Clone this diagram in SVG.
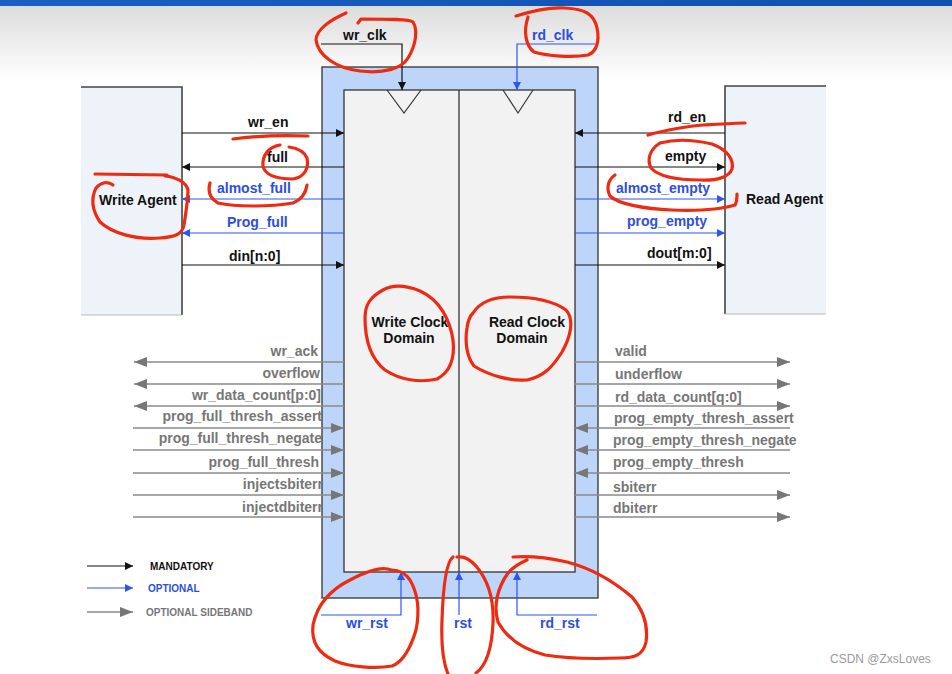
<svg xmlns="http://www.w3.org/2000/svg" width="952" height="674" viewBox="0 0 952 674">
<defs>
<linearGradient id="topbg" x1="0" y1="0" x2="0" y2="1">
<stop offset="0" stop-color="#dcdcdc"/>
<stop offset="1" stop-color="#ffffff"/>
</linearGradient>
<linearGradient id="topbar" x1="0" y1="0" x2="1" y2="0">
<stop offset="0" stop-color="#1b5fc4"/>
<stop offset="1" stop-color="#0f4fae"/>
</linearGradient>
<marker id="ak" markerUnits="userSpaceOnUse" markerWidth="9" markerHeight="9" refX="8" refY="4" orient="auto"><path d="M0,0 L8,4 L0,8 z" fill="#111"/></marker>
<marker id="ab" markerUnits="userSpaceOnUse" markerWidth="9" markerHeight="9" refX="8" refY="4" orient="auto"><path d="M0,0 L8,4 L0,8 z" fill="#2d55f0"/></marker>
<marker id="ag" markerUnits="userSpaceOnUse" markerWidth="14" markerHeight="11" refX="13" refY="5" orient="auto"><path d="M0,0 L13,5 L0,10 z" fill="#777"/></marker>
</defs>
<style>
text{font-family:"Liberation Sans",Arial,sans-serif;font-weight:bold;font-size:14px}
.k{fill:#111}
.b{fill:#2d4ee0}
.g{fill:#777}
.lk{stroke:#111;stroke-width:1.2;fill:none;marker-end:url(#ak)}
.lb{stroke:#2d55f0;stroke-width:1.2;fill:none;marker-end:url(#ab)}
.lg{stroke:#8a8a8a;stroke-width:1.5;fill:none;marker-end:url(#ag)}
.red{stroke:#ee2a10;stroke-width:3.2;fill:none;stroke-linecap:round;stroke-linejoin:round}
.lg10{font-size:10px}
.agent{fill:#eef3f9}
.edge{stroke:#444;stroke-width:1.6;fill:none}
</style>
<rect x="0" y="0" width="952" height="674" fill="#ffffff"/>
<rect x="0" y="5" width="952" height="75" fill="url(#topbg)"/>
<rect x="0" y="0" width="952" height="6" fill="url(#topbar)"/>

<g id="write-agent">
<rect x="81" y="87" width="101" height="228" class="agent"/>
<path class="edge" d="M81,87 H182 V315"/>
<line x1="81" y1="315" x2="182" y2="315" stroke="#bbb" stroke-width="1"/>
<text x="99" y="205" class="k">Write Agent</text>
</g>
<g id="read-agent">
<rect x="725" y="86" width="101" height="228" class="agent"/>
<path class="edge" d="M725,314 V86 H826"/>
<line x1="725" y1="314" x2="826" y2="314" stroke="#bbb" stroke-width="1"/>
<text x="746" y="204" class="k">Read Agent</text>
</g>

<g id="fifo">
<rect x="322" y="67" width="276" height="531" fill="#bdd5f8" stroke="#333" stroke-width="1.3"/>
<rect x="344" y="90" width="231" height="482" fill="#f2f2f2" stroke="#333" stroke-width="1.3"/>
<line x1="459" y1="90" x2="459" y2="572" stroke="#333" stroke-width="1.3"/>
<path d="M387,90 L404,113 L421,90" fill="none" stroke="#333" stroke-width="1.2"/>
<path d="M503,90 L518,113 L533,90" fill="none" stroke="#333" stroke-width="1.2"/>
</g>
<g id="write-clock-domain">
<text x="410" y="327" class="k" text-anchor="middle">Write Clock</text>
<text x="409" y="343" class="k" text-anchor="middle">Domain</text>
</g>
<g id="read-clock-domain">
<text x="527" y="327" class="k" text-anchor="middle">Read Clock</text>
<text x="522" y="343" class="k" text-anchor="middle">Domain</text>
</g>

<g id="connectors">
<path class="lk" d="M321,44 H402 V90"/>
<path class="lb" d="M595,44 H517 V90"/>
<line class="lk" x1="182" y1="133" x2="344" y2="133"/>
<line class="lk" x1="344" y1="167" x2="182" y2="167"/>
<line class="lb" x1="344" y1="199" x2="182" y2="199"/>
<line class="lb" x1="344" y1="233" x2="182" y2="233"/>
<line class="lk" x1="182" y1="265" x2="344" y2="265"/>
<line class="lk" x1="725" y1="133" x2="575" y2="133"/>
<line class="lk" x1="575" y1="167" x2="725" y2="167"/>
<line class="lb" x1="575" y1="199" x2="725" y2="199"/>
<line class="lb" x1="575" y1="233" x2="725" y2="233"/>
<line class="lk" x1="575" y1="265" x2="725" y2="265"/>

<line class="lg" x1="344" y1="362" x2="134" y2="362"/>
<line class="lg" x1="344" y1="384" x2="134" y2="384"/>
<line class="lg" x1="344" y1="406" x2="134" y2="406"/>
<line class="lg" x1="133" y1="428" x2="344" y2="428"/>
<line class="lg" x1="133" y1="450" x2="344" y2="450"/>
<line class="lg" x1="133" y1="473" x2="344" y2="473"/>
<line class="lg" x1="133" y1="495" x2="344" y2="495"/>
<line class="lg" x1="133" y1="517" x2="344" y2="517"/>

<line class="lg" x1="575" y1="362" x2="790" y2="362"/>
<line class="lg" x1="575" y1="384" x2="790" y2="384"/>
<line class="lg" x1="575" y1="406" x2="790" y2="406"/>
<line class="lg" x1="790" y1="428" x2="575" y2="428"/>
<line class="lg" x1="790" y1="450" x2="575" y2="450"/>
<line class="lg" x1="790" y1="473" x2="575" y2="473"/>
<line class="lg" x1="575" y1="495" x2="790" y2="495"/>
<line class="lg" x1="575" y1="517" x2="790" y2="517"/>

<path class="lb" d="M321,615 H401 V572"/>
<path class="lb" d="M459,615 V572"/>
<path class="lb" d="M597,615 H517 V572"/>
</g>

<g id="labels">
<text x="343" y="40" class="k">wr_clk</text>
<text x="532" y="40" class="b">rd_clk</text>
<text x="248" y="127" class="k">wr_en</text>
<text x="267" y="162" class="k">full</text>
<text x="217" y="193" class="b">almost_full</text>
<text x="227" y="227" class="b">Prog_full</text>
<text x="229" y="261" class="k">din[n:0]</text>
<text x="668" y="122" class="k">rd_en</text>
<text x="665" y="161" class="k">empty</text>
<text x="616" y="193" class="b">almost_empty</text>
<text x="627" y="226" class="b">prog_empty</text>
<text x="647" y="258" class="k">dout[m:0]</text>

<g class="g" text-anchor="end">
<text x="318" y="356" class="g">wr_ack</text>
<text x="320" y="378" class="g">overflow</text>
<text x="321" y="400" class="g">wr_data_count[p:0]</text>
<text x="322" y="421" class="g">prog_full_thresh_assert</text>
<text x="322" y="443" class="g">prog_full_thresh_negate</text>
<text x="319" y="467" class="g">prog_full_thresh</text>
<text x="323" y="489" class="g">injectsbiterr</text>
<text x="323" y="512" class="g">injectdbiterr</text>
</g>
<text x="615" y="356" class="g">valid</text>
<text x="615" y="379" class="g">underflow</text>
<text x="615" y="402" class="g">rd_data_count[q:0]</text>
<text x="614" y="423" class="g">prog_empty_thresh_assert</text>
<text x="613" y="445" class="g">prog_empty_thresh_negate</text>
<text x="613" y="467" class="g">prog_empty_thresh</text>
<text x="613" y="492" class="g">sbiterr</text>
<text x="613" y="513" class="g">dbiterr</text>

<text x="346" y="628" class="b">wr_rst</text>
<text x="454" y="628" class="b">rst</text>
<text x="540" y="628" class="b">rd_rst</text>
</g>

<g id="legend">
<line class="lk" x1="87" y1="566" x2="133" y2="566"/>
<line class="lb" x1="87" y1="588" x2="133" y2="588"/>
<line class="lg" x1="87" y1="612" x2="133" y2="612"/>
<text x="150" y="570" class="k lg10">MANDATORY</text>
<text x="148" y="592" class="b lg10">OPTIONAL</text>
<text x="146" y="616" class="g lg10">OPTIONAL SIDEBAND</text>
</g>

<g id="annotations">
<path class="red" d="M346,13 C330,20 316,30 316,40 C318,55 335,68 360,71 C385,74 402,68 408,58 C416,45 418,30 413,22 C409,19 390,19 361,19 L358,23"/>
<path class="red" d="M516,16 C535,10 552,7 565,8 C585,9 594,14 597,28 C600,42 596,52 588,55 C572,58 548,56 534,52 C526,46 523,32 528,17"/>
<path class="red" d="M233,139 C255,136 282,135 308,136"/>
<path class="red" d="M280,145 C268,147 262,156 263,166 C265,175 275,179 293,179 C305,177 309,168 307,158 C304,151 296,148 289,147"/>
<path class="red" d="M210,183 C208,190 209,198 218,203 C235,207 270,207 293,203 C303,199 306,192 307,185"/>
<path class="red" d="M95,174 L167,175"/>
<path class="red" d="M113,185 C108,181 101,182 96,188 C91,198 92,210 100,222 C112,233 135,240 160,238 C176,237 182,234 184,225 C186,212 188,200 188,190 C186,182 176,177 165,176"/>
<path class="red" d="M648,135 C665,130 690,126 703,125 C720,124 735,123 745,123"/>
<path class="red" d="M660,143 C675,139 695,140 712,144 C728,150 734,160 732,169 C729,177 717,181 700,180 C680,180 660,178 651,168 C647,160 649,150 660,143"/>
<path class="red" d="M615,175 C608,180 606,188 610,196 C618,204 645,209 672,210 C700,211 722,209 735,205 C737,202 737,198 737,194"/>
<path class="red" d="M383,290 C392,285 405,285 420,291 C440,300 450,320 453,340 C455,358 450,372 437,379 C420,383 400,380 385,370 C370,358 365,338 365,318 C365,305 370,297 383,290 Z"/>
<path class="red" d="M473,313 C480,302 493,297 510,297 C535,297 555,302 566,310 C575,320 570,338 562,352 C553,366 545,376 527,380 C510,381 490,376 474,366 C466,356 465,340 467,328 C468,320 470,316 473,313 Z"/>
<path class="red" d="M391,570 C382,566 365,572 350,580 C330,590 317,605 313,625 C311,642 318,653 335,661 C350,667 375,669 392,666 C403,662 410,650 416,630 C420,610 417,592 410,580 C405,573 398,570 392,570"/>
<path class="red" d="M453,557 C446,562 443,590 442,620 C441,645 443,662 448,674 M476,673 C487,665 492,645 493,623 C494,600 488,580 476,566 C470,559 463,556 457,557"/>
<path class="red" d="M513,557 C525,556 545,557 567,562 C590,568 612,580 632,597 C645,612 648,628 646,642 C643,655 635,658 620,658 C595,659 570,659 545,655 C525,650 508,640 498,622 C493,605 498,587 508,573 C514,566 520,563 527,560"/>
</g>

<text x="830" y="663" style="font-weight:normal;font-size:12px;fill:#9a9a9a">CSDN @ZxsLoves</text>
</svg>
